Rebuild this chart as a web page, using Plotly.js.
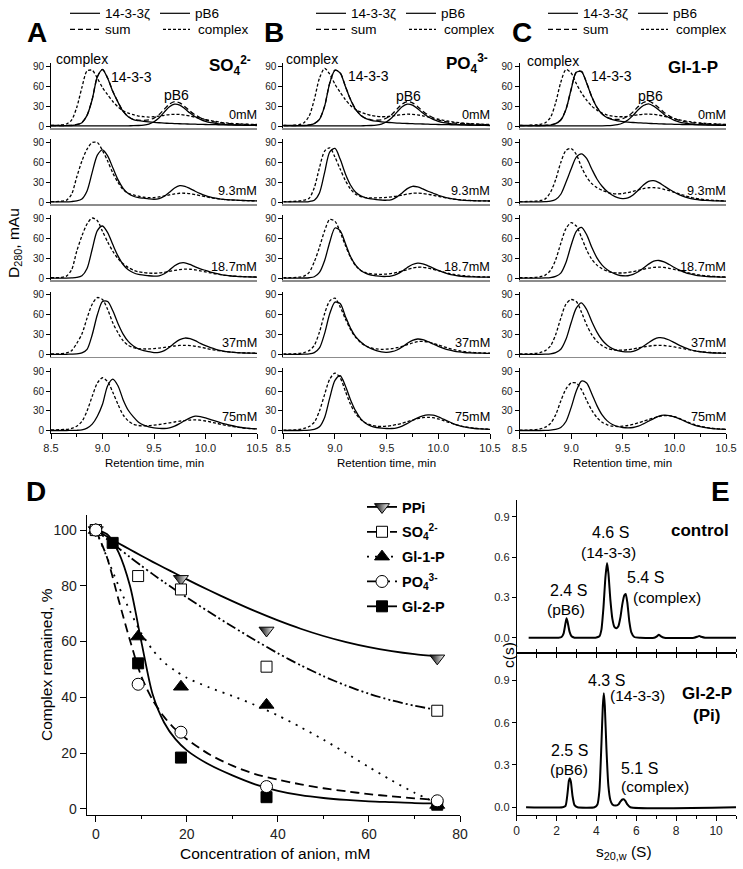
<!DOCTYPE html>
<html>
<head>
<meta charset="utf-8">
<script src="https://cdn.plot.ly/plotly-3.0.1.min.js"></script>
<style>
  html, body { margin: 0; padding: 0; background: #fff; }
  #chart { width: 743px; height: 869px; }
</style>
</head>
<body>
<div id="chart"></div>
<script>
// ---- chromatograms (A, B, C): retention time grid, min ----
const retentionTime = [8.5, 8.55, 8.6, 8.65, 8.7, 8.75, 8.8, 8.85, 8.9, 8.95, 9.0, 9.05, 9.1, 9.15, 9.2, 9.25, 9.3, 9.35, 9.4, 9.45,
  9.5, 9.55, 9.6, 9.65, 9.7, 9.75, 9.8, 9.85, 9.9, 9.95, 10.0, 10.05, 10.1, 10.15, 10.2, 10.25, 10.3, 10.35, 10.4, 10.45, 10.5];

// A: SO4 2-
const so4Free1433 = [0.5,0.5,0.5,0.5,0.8,2,5,16,40,74,85,72,52,36,22,14,9.5,8,7,6.2,5.5,4.9,4.4,4,3.7,3.4,3.1,2.9,2.7,2.5,2.3,2.1,2,1.8,1.7,1.6,1.5,1.4,1.3,1.2,1.1];
const so4FreePB6 = [0.3,0.3,0.3,0.3,0.3,0.3,0.3,0.3,0.3,0.3,0.3,0.3,0.3,0.3,0.3,0.3,0.5,0.8,1.5,3,6.5,12.5,21,29,33,31.5,26,19.5,14,10,7,5,3.8,2.8,2.2,1.8,1.5,1.2,1,0.9,0.8];
const so4FreeSum = [0.8,0.8,0.8,0.8,1.1,2.3,5.3,16.3,40.3,74.3,85.3,72.3,52.3,36.3,22.3,14.3,10,8.8,8.5,9.2,12,17.4,25.4,33,36.7,34.9,29.1,22.4,16.7,12.5,9.3,7.1,5.8,4.6,3.9,3.4,3,2.6,2.3,2.1,1.9];
const so4FreeComplex = [1,1,1.5,3,9,28,58,83,84,72,58,47,37,29,23,19.5,17,15,14,13.5,14,15,16.2,17.2,17.6,17.4,16.4,15,13.3,11.6,9.8,8.2,6.8,5.6,4.7,4,3.5,3.1,2.8,2.5,2.3];
const so4Solid93 = [0.5,0.5,0.5,0.5,1,2,5,17,45,71,79,70,52,34,21,13,9,7,6,5,4.5,5.5,9,15,21.5,25,24,20.5,16.5,13,10,7.8,6,4.8,4,3.4,3,2.7,2.4,2.2,2];
const so4Dotted93 = [1,1,1.5,3,12,38,62,80,90,90,78,62,44,30,19,13.5,11,9,7.5,7,7,8,9.5,11,12.5,13.5,13.5,12.8,11.5,10,8.3,6.8,5.5,4.5,3.8,3.3,2.9,2.6,2.3,2.1,2];
const so4Solid187 = [0.5,0.5,0.5,0.5,0.8,1.5,4,15,44,72,79,69,51,34,21,13,8.5,6,5,4,3.5,4,7,12.5,19,23,23.5,21,17.5,14.5,12,9.5,7.5,5.8,4.5,3.6,3,2.6,2.3,2.1,2];
const so4Dotted187 = [1,1,1.5,3.5,13,41,64,82,91,87,71,55,41,30,22,16.5,12.5,10,8.7,8,7.8,8.2,9.2,10.5,12,13.3,14,13.8,12.8,11.4,9.8,8.3,6.8,5.6,4.6,3.9,3.3,2.9,2.6,2.3,2.1];
const so4Solid37 = [0.5,0.5,0.5,0.5,0.7,1,2.5,8,30,60,80,80,66,47,31,20,13,8.5,6,4.5,3,3.5,6,11,17.5,22.5,25,24,21,17,13.5,10.5,8,6,4.6,3.6,3,2.6,2.3,2.1,2];
const so4Dotted37 = [1,1,1.5,2.5,6,17,31,55,76,86,83,68,48,33,21,14,10.5,9,8.5,8.5,9,9.8,10.8,12,13,13.8,14,13.6,12.6,11.2,9.6,8,6.6,5.4,4.5,3.8,3.2,2.8,2.5,2.3,2.1];
const so4Solid75 = [0.5,0.5,0.5,0.5,0.6,0.8,1.5,4,10,22,40,68,78,68,47,31,21,13,8.5,6,4.5,3.8,3.5,4.5,7,11,15.5,19.5,22,21.5,19.5,17,14.5,12,10,8,6.3,5,4,3.3,2.8];
const so4Dotted75 = [1.5,1.5,1.8,2.2,3.5,7,14,30,52,72,80,74,58,40,24,15,10,8,7.5,7.8,8.5,9.5,10.8,12,13.3,14.5,15.5,16.2,16.5,16,14.8,13.3,11.5,9.8,8.2,6.8,5.6,4.6,3.8,3.2,2.8];

// B: PO4 3-
const po4Free1433 = [0.5,0.5,0.5,0.5,0.7,1.3,3.5,10,30,65,84,80,60,40,25,16,11,8.5,7.2,6.3,5.6,5,4.5,4.1,3.8,3.5,3.2,3,2.7,2.5,2.3,2.1,2,1.8,1.7,1.6,1.5,1.4,1.3,1.2,1.1];
const po4FreePB6 = [0.3,0.3,0.3,0.3,0.3,0.3,0.3,0.3,0.3,0.3,0.3,0.3,0.3,0.3,0.3,0.3,0.5,0.8,1.5,3,6.5,12.5,21,29,33,31.5,26,19.5,14,10,7,5,3.8,2.8,2.2,1.8,1.5,1.2,1,0.9,0.8];
const po4FreeSum = [0.8,0.8,0.8,0.8,1,1.6,3.8,10.3,30.3,65.3,84.3,80.3,60.3,40.3,25.3,16.3,11.5,9.3,8.7,9.3,12.1,17.5,25.5,33.1,36.8,35,29.2,22.5,16.7,12.5,9.3,7.1,5.8,4.6,3.9,3.4,3,2.6,2.3,2.1,1.9];
const po4FreeComplex = [1,1,1.2,2,5,15,40,72,87,78,63,51,40,31,25,21,18,16,14.8,14,14.2,15,16.2,17.2,17.8,17.6,16.8,15.4,13.7,12,10.2,8.6,7.2,6,5,4.2,3.6,3.2,2.8,2.5,2.3];
const po4Solid93 = [0.5,0.5,0.5,0.5,0.6,1,3,14,45,76,81,65,43,26,15,9.5,6.5,5,4,3.3,3,4,8,14,20.5,24,23,20,16.5,13.5,10.5,8,6,4.5,3.5,2.9,2.5,2.2,2,1.9,1.8];
const po4Dotted93 = [1,1,1.2,1.8,3,6,22,52,77,82,68,50,33,20,12,8.5,7,6.5,6.5,6.8,7.3,8.2,9.3,10.8,12.3,13.5,13.8,13.2,12,10.5,8.8,7.2,5.8,4.7,3.8,3.2,2.7,2.4,2.1,1.9,1.8];
const po4Solid187 = [0.5,0.5,0.5,0.5,0.6,1,2.5,9,27,55,76,72,53,33,20,12,7.5,5,3.8,3,3,4,6.5,11,16.5,21,23,22,19,15.5,12,9,6.5,4.8,3.6,2.9,2.5,2.2,2,1.9,1.8];
const po4Dotted187 = [1,1,1.2,1.8,3.5,9,25,47,72,89,86,70,50,32,19,12,8.5,7,6.3,6.2,6.6,7.5,9,11,13.3,15.5,16.8,16.8,15.6,13.8,11.7,9.6,7.7,6.1,4.9,4,3.3,2.8,2.5,2.2,2];
const po4Solid37 = [0.5,0.5,0.5,0.5,0.6,1,3,10,32,62,79,77,58,40,27,19,13,9,6,4,3.5,4.5,7,11.5,17,21.5,23.5,22.5,19.5,16,12.5,9.5,7,5.2,4,3.2,2.7,2.4,2.2,2,1.9];
const po4Dotted37 = [1,1,1.2,1.8,3,6,14,34,62,81,85,72,54,38,26,18,13,10,8.5,8,8.2,9,10.5,12.5,15,17.5,19.5,20,19,17,14.5,12,9.5,7.5,5.8,4.6,3.7,3.1,2.7,2.4,2.2];
const po4Solid75 = [0.5,0.5,0.5,0.5,0.6,1,2,6,20,50,76,83,68,47,30,18,11,7,5,4,3.5,3.5,4.5,7,11,15.5,19.5,22.5,24,23.5,21,17.5,14,10.5,7.8,5.8,4.4,3.5,2.9,2.5,2.2];
const po4Dotted75 = [1,1,1.2,2,3.5,6.5,13,30,55,78,87,80,60,40,26,17,11.5,8.5,7,6.5,7,8,9.5,11.5,13.8,16.2,18.3,19.8,20.4,19.8,18,15.5,12.8,10.2,8,6.2,4.9,4,3.3,2.8,2.4];

// C: Gl-1-P
const gl1pFree1433 = [0.5,0.5,0.5,0.5,0.5,0.8,1.5,3.5,9,25,55,81,82,65,44,28,18,12.5,9.5,7.8,6.7,5.9,5.3,4.8,4.4,4,3.6,3.3,3,2.8,2.6,2.4,2.2,2,1.9,1.8,1.7,1.6,1.5,1.4,1.3];
const gl1pFreePB6 = [0.3,0.3,0.3,0.3,0.3,0.3,0.3,0.3,0.3,0.3,0.3,0.3,0.3,0.3,0.3,0.3,0.3,0.5,1,2,4.5,9,16,24.5,31,33.5,30,24,17.5,12.5,8.5,6,4.4,3.3,2.6,2,1.7,1.4,1.2,1,0.9];
const gl1pFreeSum = [0.8,0.8,0.8,0.8,0.8,1.1,1.8,3.8,9.3,25.3,55.3,81.3,82.3,65.3,44.3,28.3,18.3,13,10.5,9.8,11.2,14.9,21.3,29.3,35.4,37.5,33.6,27.3,20.5,15.3,11.1,8.4,6.6,5.3,4.5,3.8,3.4,3,2.7,2.4,2.2];
const gl1pFreeComplex = [1,1,1.2,1.5,2.5,5,13,35,66,85,80,64,50,39,30,24,19.5,16.5,14.8,14,14,14.7,15.8,17,17.8,18,17.5,16.3,14.7,12.9,11,9.3,7.8,6.5,5.4,4.6,3.9,3.4,3,2.7,2.4];
const gl1pSolid93 = [0.5,0.5,0.5,0.5,0.5,0.8,1.5,4,12,30,50,68,73,66,50,35,24,16,10.5,7,5.5,6.5,11,18,26,31.5,32.5,29.5,24.5,19.5,15,11,8,5.8,4.3,3.3,2.7,2.3,2,1.8,1.7];
const gl1pDotted93 = [1,1,1.2,1.5,2.5,5,15,34,60,78,81,72,53,38,28,22,18,15,13,12.5,13,14.5,16.5,18.5,20.5,21.8,22,21.2,19.5,17.3,15,12.5,10,7.8,6,4.7,3.7,3,2.6,2.3,2];
const gl1pSolid187 = [0.5,0.5,0.5,0.5,0.5,0.7,1.2,3,8,24,50,71,77,66,47,31,20,13,8.5,5.5,4,4,6,10,15.5,21.5,26,27,25,21,16.5,12.5,9.2,6.7,5,3.8,3,2.5,2.2,2,1.8];
const gl1pDotted187 = [1,1,1.2,1.5,2.5,5,12,28,53,75,84,79,62,43,29,20,14.5,11,9,8.2,8.2,9,10.3,12,13.8,15.4,16.6,17,16.5,15.2,13.5,11.6,9.7,7.9,6.3,5,4,3.3,2.8,2.4,2.1];
const gl1pSolid37 = [0.5,0.5,0.5,0.5,0.5,0.7,1.2,3,8,23,48,70,78,68,50,34,22,14,9,6,4.5,4,5,8,12.5,18,23,25.5,25,22,18,14,10.5,7.7,5.7,4.3,3.4,2.8,2.4,2.1,1.9];
const gl1pDotted37 = [1,1,1.2,1.8,3,6,13,30,55,76,83,80,64,45,30,20,13.5,9.5,7.5,6.8,6.8,7.5,8.6,10,11.5,12.8,13.7,14,13.7,12.8,11.5,10,8.5,7,5.7,4.6,3.8,3.2,2.7,2.4,2.1];
const gl1pSolid75 = [0.5,0.5,0.5,0.5,0.5,0.6,1,2,5,14,35,60,75,72,56,38,24,15,9.5,6.5,5,4.5,5,7,10.5,14.5,18.5,22,23.5,23,21,18,14.5,11,8.3,6.2,4.7,3.7,3,2.5,2.2];
const gl1pDotted75 = [1,1,1.3,1.8,3,5.5,11,24,45,63,72,72,62,46,31,20,13,9,7,6.5,7,8,9.8,12,14.5,17,19.5,21.5,22.8,22.8,21.2,18.5,15.2,12,9.2,7,5.3,4.1,3.3,2.7,2.3];

const concLabels = ['0mM', '9.3mM', '18.7mM', '37mM', '75mM'];

// ---- D: complex remained vs anion concentration ----
const ppiConc = [0, 18.7, 37.5, 75];
const ppiRemained = [100, 82.5, 64, 54];
const so4Conc = [0, 9.3, 18.7, 37.5, 75];
const so4Remained = [100, 83.5, 78.7, 51, 35.2];
const gl1pConc = [0, 9.3, 18.7, 37.5, 75];
const gl1pRemained = [100, 61.8, 43.8, 37.3, 1.4];
const po4Conc = [0, 9.3, 18.7, 37.5, 75];
const po4Remained = [100, 44.7, 27.5, 8, 2.9];
const gl2pConc = [0, 3.7, 9.3, 18.7, 37.5, 75];
const gl2pRemained = [100, 95.4, 52.2, 18.4, 4.2, 1.5];

const fitConc = [0, 2.5, 5, 7.5, 10, 12.5, 15, 17.5, 20, 25, 30, 35, 40, 45, 50, 55, 60, 65, 70, 75];
const ppiFit = [100, 97.6, 95.3, 93, 90.8, 88.6, 86.5, 84.4, 82.3, 78.3, 74.5, 70.9, 67.6, 64.6, 62, 59.8, 58, 56.6, 55.5, 54.7];
const so4Fit = [100, 96.7, 93.5, 90.3, 87.2, 84.2, 81.3, 78.5, 75.8, 70.5, 65.4, 60.5, 55.8, 51.5, 47.6, 44.2, 41.3, 38.9, 37, 35.5];
const gl1pFit = [100, 90, 80, 71, 63, 57, 52.5, 49.5, 47, 43.5, 40.5, 37.2, 33.5, 29.3, 24.8, 20, 15, 10.2, 5.8, 2];
const po4Fit = [100, 90, 75, 60.5, 47.5, 39, 33, 28.5, 25, 19.5, 15.5, 12.5, 10.5, 8.8, 7.4, 6.3, 5.3, 4.5, 3.8, 3.2];
const gl2pFit = [100, 98.5, 92, 80, 60, 41, 31, 25, 21, 15.8, 12, 8.8, 6.5, 4.9, 3.9, 3.2, 2.7, 2.4, 2.1, 2];

// ---- E: c(s) distributions ----
const controlS = [0.6, 1.5, 2.1, 2.25, 2.35, 2.45, 2.5, 2.55, 2.65, 2.75, 2.9, 3.5, 3.95, 4.15, 4.25, 4.35, 4.45, 4.53, 4.6, 4.7, 4.8, 4.9,
  5.0, 5.1, 5.2, 5.3, 5.4, 5.47, 5.55, 5.65, 5.75, 5.9, 6.2, 6.9, 7.05, 7.13, 7.22, 7.4, 8.9, 9.08, 9.16, 9.25, 9.45, 11];
const controlC = [0, 0, 0, 0.005, 0.03, 0.11, 0.145, 0.12, 0.045, 0.01, 0, 0, 0, 0.01, 0.06, 0.22, 0.45, 0.555, 0.48, 0.28, 0.14, 0.08,
  0.07, 0.085, 0.15, 0.25, 0.315, 0.325, 0.26, 0.12, 0.04, 0.005, 0, 0, 0.012, 0.022, 0.012, 0, 0, 0.008, 0.012, 0.007, 0, 0];
const gl2pS = [0.47, 2.3, 2.45, 2.55, 2.62, 2.67, 2.72, 2.8, 2.9, 3.05, 3.9, 4.05, 4.15, 4.25, 4.32, 4.37, 4.42, 4.5, 4.6, 4.7, 4.8,
  4.95, 5.1, 5.2, 5.3, 5.37, 5.45, 5.55, 5.7, 11];
const gl2pC = [0, 0, 0.01, 0.1, 0.19, 0.205, 0.18, 0.08, 0.015, 0, 0, 0.02, 0.12, 0.45, 0.72, 0.81, 0.72, 0.42, 0.15, 0.05, 0.02,
  0.012, 0.02, 0.04, 0.055, 0.057, 0.045, 0.02, 0, 0];

// ---- layout helpers (pixel -> paper) ----
const FONT = 'Liberation Sans, Arial, sans-serif';
const W = 743, H = 869;
const fx = x => x / W;
const fy = y => 1 - y / H;

const traces = [];
const layout = {
  width: W, height: H,
  margin: {l: 0, r: 0, t: 0, b: 0},
  paper_bgcolor: '#fff',
  plot_bgcolor: 'rgba(0,0,0,0)',
  font: {family: FONT, color: '#000', size: 12},
  showlegend: true,
  legend: {
    x: fx(362), y: fy(491), xanchor: 'left', yanchor: 'top',
    bgcolor: 'rgba(0,0,0,0)', traceorder: 'grouped', tracegroupgap: 3,
    font: {family: FONT, size: 14.5, color: '#000'}
  },
  annotations: [],
  shapes: []
};

function note(text, x, y, size, extra) {
  layout.annotations.push(Object.assign({
    text: text, xref: 'paper', yref: 'paper', x: fx(x), y: fy(y),
    xanchor: 'center', yanchor: 'middle', showarrow: false,
    font: {family: FONT, size: size, color: '#000'}
  }, extra || {}));
}

function sample(x0, x1, y, dash) {
  layout.shapes.push({type: 'line', xref: 'paper', yref: 'paper', x0: fx(x0), x1: fx(x1), y0: fy(y), y1: fy(y),
    line: {color: '#000', width: 1.2, dash: dash}});
}

function curve(y, s, dash) {
  traces.push({
    x: retentionTime, y: y, xaxis: 'x' + s, yaxis: 'y' + s, type: 'scatter', mode: 'lines',
    line: {color: '#000', width: 1.3, dash: dash, shape: 'spline', smoothing: 0.8},
    showlegend: false, hoverinfo: 'skip'
  });
}

// ---- panels A, B, C ----
const columns = [
  {left: 51, right: 257, letter: ['A', 37, 32], anion: ['SO<sub>4</sub><sup>2-</sup>', 253, 65], legendX: 70,
   peaks: [[81.7, 59.3], [131.7, 76.7], [176.7, 95]],
   free: [so4Free1433, so4FreePB6, so4FreeSum, so4FreeComplex],
   solid: [so4Solid93, so4Solid187, so4Solid37, so4Solid75],
   dotted: [so4Dotted93, so4Dotted187, so4Dotted37, so4Dotted75]},
  {left: 283.3, right: 490, letter: ['B', 274, 32], anion: ['PO<sub>4</sub><sup>3-</sup>', 490, 63], legendX: 316,
   peaks: [[312, 59.3], [368.3, 76.5], [408.5, 95.5]],
   free: [po4Free1433, po4FreePB6, po4FreeSum, po4FreeComplex],
   solid: [po4Solid93, po4Solid187, po4Solid37, po4Solid75],
   dotted: [po4Dotted93, po4Dotted187, po4Dotted37, po4Dotted75]},
  {left: 519.5, right: 726, letter: ['C', 522, 33], anion: ['Gl-1-P', 720, 68], legendX: 548,
   peaks: [[553.3, 61], [611.7, 76.5], [650, 95.5]],
   free: [gl1pFree1433, gl1pFreePB6, gl1pFreeSum, gl1pFreeComplex],
   solid: [gl1pSolid93, gl1pSolid187, gl1pSolid37, gl1pSolid75],
   dotted: [gl1pDotted93, gl1pDotted187, gl1pDotted37, gl1pDotted75]}
];
const rowLabelY = [115, 191, 267, 343, 417];

columns.forEach((col, c) => {
  for (let r = 0; r < 5; r++) {
    const n = c * 5 + r + 1;
    const s = n === 1 ? '' : String(n);
    const bottom = 128 + 76.2 * r;
    const last = r === 4;
    const xa = {
      domain: [fx(col.left), fx(col.right)], range: [8.5, 10.5], anchor: 'y' + s,
      showline: true, linecolor: last ? '#000' : '#8c8c8c', linewidth: last ? 1 : 1.5,
      showgrid: false, zeroline: false,
      ticks: last ? 'outside' : '', ticklen: 5, tickcolor: '#000',
      dtick: 0.5, tick0: 8.5, tickformat: '.1f',
      showticklabels: last, tickfont: {family: FONT, size: 11, color: '#222'}
    };
    if (last) xa.minor = {dtick: 0.25, ticks: 'outside', ticklen: 3, tickcolor: '#000'};
    layout['xaxis' + s] = xa;
    layout['yaxis' + s] = {
      domain: [fy(bottom), fy(bottom - 65)], range: [-3, 95], anchor: 'x' + s,
      showline: true, linecolor: '#000', linewidth: 1, showgrid: false, zeroline: false,
      tickvals: [0, 30, 60, 90], ticks: 'outside', ticklen: 4, tickcolor: '#000',
      tickfont: {family: FONT, size: 10, color: '#222'}
    };
    if (r === 0) {
      curve(col.free[0], s, 'solid');
      curve(col.free[1], s, 'solid');
      curve(col.free[2], s, '5px,3px');
      curve(col.free[3], s, '3px,2px');
    } else {
      curve(col.dotted[r - 1], s, '3px,2px');
      curve(col.solid[r - 1], s, 'solid');
    }
    note(concLabels[r], col.right + 2, rowLabelY[r], 12.7, {xanchor: 'right'});
  }
  note('<b>' + col.letter[0] + '</b>', col.letter[1], col.letter[2], 28);
  note('<b>' + col.anion[0] + '</b>', col.anion[1], col.anion[2], 17, {xanchor: 'right'});
  note('complex', col.peaks[0][0], col.peaks[0][1], 14);
  note('14-3-3', col.peaks[1][0], col.peaks[1][1], 14);
  note('pB6', col.peaks[2][0], col.peaks[2][1], 14);
  note('Retention time, min', (col.left + col.right) / 2, 462.7, 11.5);
  // hand-made legend block
  const lx = col.legendX;
  sample(lx, lx + 30, 13.3, 'solid');
  note('14-3-3ζ', lx + 33, 13.3, 13.5, {xanchor: 'left'});
  sample(lx + 90, lx + 120, 13.3, 'solid');
  note('pB6', lx + 123, 13.3, 13.5, {xanchor: 'left'});
  sample(lx, lx + 30, 29.3, '5px,3px');
  note('sum', lx + 33, 29.3, 13.5, {xanchor: 'left'});
  sample(lx + 93, lx + 120, 29.3, '3px,2px');
  note('complex', lx + 126, 29.3, 13.5, {xanchor: 'left'});
});
note('D<sub>280</sub>, mAu', 14, 243, 15.5, {textangle: -90});

// ---- panel D ----
layout.xaxis16 = {
  domain: [fx(86.7), fx(460)], range: [-2, 80], anchor: 'y16',
  showline: true, linecolor: '#000', linewidth: 1, showgrid: false, zeroline: false,
  dtick: 20, tick0: 0, ticks: 'outside', ticklen: 6, tickcolor: '#000',
  minor: {dtick: 10, ticks: 'outside', ticklen: 3, tickcolor: '#000'},
  tickfont: {family: FONT, size: 14, color: '#222'}
};
layout.yaxis16 = {
  domain: [fy(815.3), fy(515)], range: [-2.3, 105.4], anchor: 'x16',
  showline: true, linecolor: '#000', linewidth: 1, showgrid: false, zeroline: false,
  dtick: 20, tick0: 0, ticks: 'outside', ticklen: 6, tickcolor: '#000',
  tickfont: {family: FONT, size: 14, color: '#222'}
};

const series = [
  {name: '<b>PPi</b>', x: ppiConc, y: ppiRemained, fit: ppiFit, dash: 'solid',
   marker: {symbol: 'triangle-down', size: 13, color: '#000', gradient: {type: 'horizontal', color: '#fff'}, line: {color: '#000', width: 1}}},
  {name: '<b>SO<sub>4</sub><sup>2-</sup></b>', x: so4Conc, y: so4Remained, fit: so4Fit, dash: '10px,3px,2px,3px,2px,3px',
   marker: {symbol: 'square', size: 11, color: '#fff', line: {color: '#000', width: 1}}},
  {name: '<b>Gl-1-P</b>', x: gl1pConc, y: gl1pRemained, fit: gl1pFit, dash: '2px,6px',
   marker: {symbol: 'triangle-up', size: 13, color: '#000', line: {color: '#000', width: 1}}},
  {name: '<b>PO<sub>4</sub><sup>3-</sup></b>', x: po4Conc, y: po4Remained, fit: po4Fit, dash: '9px,5px',
   marker: {symbol: 'circle', size: 12, color: '#fff', line: {color: '#000', width: 1}}},
  {name: '<b>Gl-2-P</b>', x: gl2pConc, y: gl2pRemained, fit: gl2pFit, dash: 'solid',
   marker: {symbol: 'square', size: 11, color: '#000', line: {color: '#000', width: 1}}}
];
series.forEach(sr => {
  traces.push({x: fitConc, y: sr.fit, xaxis: 'x16', yaxis: 'y16', mode: 'lines',
    line: {color: '#000', width: 1.8, dash: sr.dash, shape: 'spline', smoothing: 0.8},
    showlegend: false, hoverinfo: 'skip'});
});
// markers: Gl-2-P first so the triangle at 75 mM stays on top
[4, 0, 1, 2, 3].forEach(i => {
  const sr = series[i];
  traces.push({x: sr.x, y: sr.y, xaxis: 'x16', yaxis: 'y16', mode: 'markers', marker: sr.marker,
    cliponaxis: false, showlegend: false});
});
series.forEach((sr, i) => {
  traces.push({x: [null], y: [null], xaxis: 'x16', yaxis: 'y16', mode: 'lines+markers', name: sr.name,
    legendgroup: 'g' + i, line: {color: '#000', width: 1.8, dash: sr.dash}, marker: sr.marker});
});
note('<b>D</b>', 36, 491, 28);
note('Concentration of anion, mM', 275, 853, 15.5);
note('Complex remained, %', 46, 665, 15.5, {textangle: -90});

// ---- panel E ----
const eX = [fx(516.7), fx(736)];
layout.xaxis17 = {
  domain: eX, range: [0, 11], anchor: 'y17', showline: true, linecolor: '#000', linewidth: 1,
  showgrid: false, zeroline: false, dtick: 1, tick0: 0, ticks: 'outside', ticklen: 4, tickcolor: '#000',
  showticklabels: false
};
layout.yaxis17 = {
  domain: [fy(652.7), fy(500)], range: [-0.112, 1.025], anchor: 'x17', showline: true, linecolor: '#000', linewidth: 1,
  showgrid: false, zeroline: false, tickvals: [0, 0.3, 0.6, 0.9], ticktext: ['0.0', '0.3', '0.6', '0.9'],
  ticks: 'outside', ticklen: 4, tickcolor: '#000', tickfont: {family: FONT, size: 11, color: '#222'}
};
layout.xaxis18 = {
  domain: eX, range: [0, 11], anchor: 'y18', showline: true, linecolor: '#000', linewidth: 1, mirror: 'ticks',
  showgrid: false, zeroline: false, dtick: 2, tick0: 0, ticks: 'outside', ticklen: 5, tickcolor: '#000',
  minor: {dtick: 1, ticks: 'outside', ticklen: 3, tickcolor: '#000'},
  tickfont: {family: FONT, size: 12, color: '#222'}
};
layout.yaxis18 = {
  domain: [fy(815), fy(652.7)], range: [-0.055, 1.097], anchor: 'x18', showline: true, linecolor: '#000', linewidth: 1,
  showgrid: false, zeroline: false, tickvals: [0, 0.3, 0.6, 0.9], ticktext: ['0.0', '0.3', '0.6', '0.9'],
  ticks: 'outside', ticklen: 4, tickcolor: '#000', tickfont: {family: FONT, size: 11, color: '#222'}
};
traces.push({x: controlS, y: controlC, xaxis: 'x17', yaxis: 'y17', mode: 'lines',
  line: {color: '#000', width: 2, shape: 'spline', smoothing: 0.5}, showlegend: false, hoverinfo: 'skip'});
traces.push({x: gl2pS, y: gl2pC, xaxis: 'x18', yaxis: 'y18', mode: 'lines',
  line: {color: '#000', width: 2, shape: 'spline', smoothing: 0.5}, showlegend: false, hoverinfo: 'skip'});

note('<b>E</b>', 720, 491, 28);
note('2.4 S', 568.3, 590.7, 16);
note('(pB6)', 566, 609.3, 15.5);
note('4.6 S', 610, 532.7, 16);
note('(14-3-3)', 608.3, 552.7, 15.5);
note('5.4 S', 645, 577.3, 16);
note('(complex)', 666.7, 597.3, 15.5);
note('<b>control</b>', 700, 530.7, 17);
note('4.3 S', 606, 680.7, 16);
note('(14-3-3)', 637.3, 695, 15.5);
note('<b>Gl-2-P</b>', 706.7, 693.3, 17);
note('<b>(Pi)</b>', 706, 715, 17);
note('2.5 S', 569.3, 750, 16);
note('(pB6)', 569.3, 769.3, 15.5);
note('5.1 S', 639.3, 768.3, 16);
note('(complex)', 655, 786.7, 15.5);
note('s<sub>20,w</sub> (S)', 624, 852, 15.5);
note('c(s)', 508, 655, 15.5, {textangle: -90});

Plotly.newPlot('chart', traces, layout, {staticPlot: true});
</script>
</body>
</html>
